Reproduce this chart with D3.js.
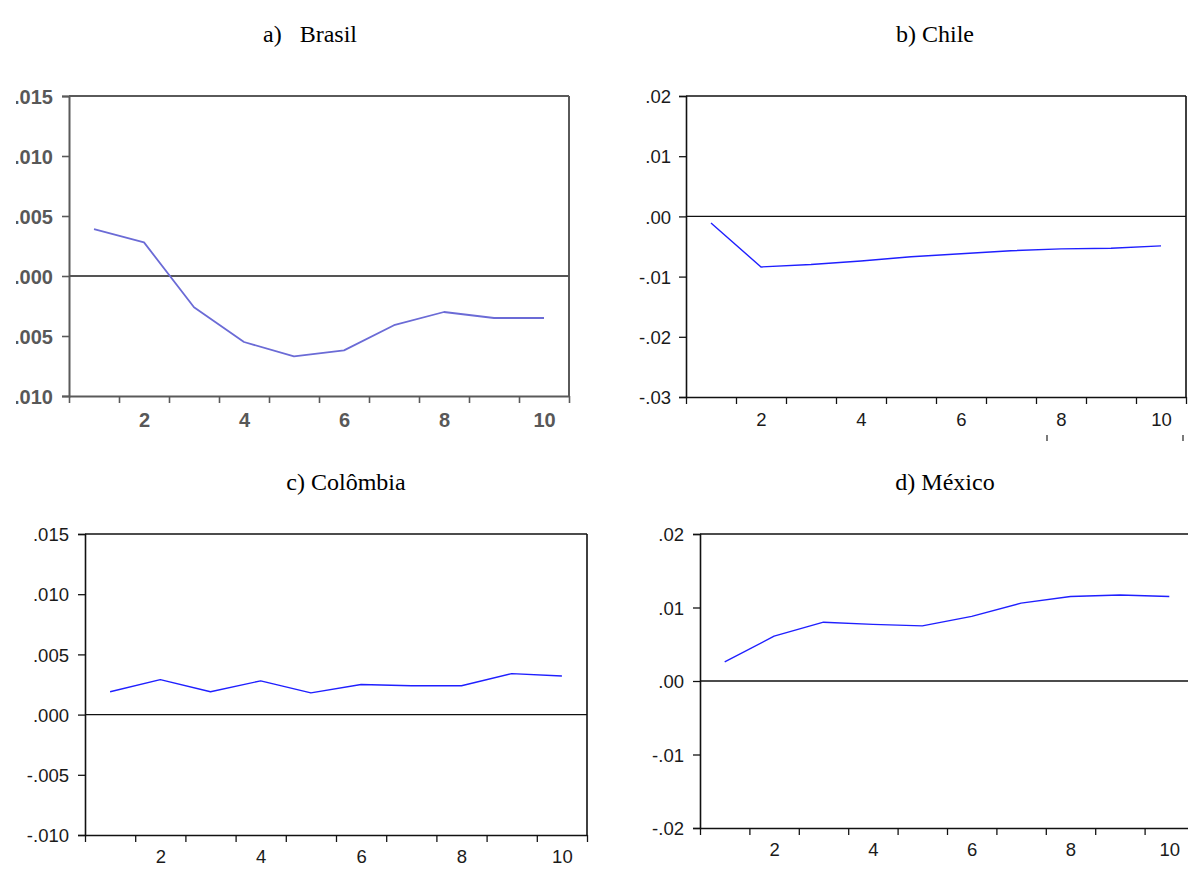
<!DOCTYPE html>
<html>
<head>
<meta charset="utf-8">
<script src="https://cdn.jsdelivr.net/npm/d3@7"></script>
<style>
  html, body { margin: 0; padding: 0; background: #ffffff; }
  svg { display: block; }
</style>
</head>
<body>
<svg id="chart" width="1188" height="870"></svg>
<script>
// ---------- DATA ----------
const periods = [1, 2, 3, 4, 5, 6, 7, 8, 9, 10];
const xTickLabels = [2, 4, 6, 8, 10];

const brasilValues   = [0.0039, 0.0028, -0.0026, -0.0055, -0.0067, -0.0062, -0.0041, -0.0030, -0.0035, -0.0035];
const chileValues    = [-0.0011, -0.0084, -0.0080, -0.0074, -0.0067, -0.0062, -0.0057, -0.0054, -0.0053, -0.0049];
const colombiaValues = [0.0019, 0.0029, 0.0019, 0.0028, 0.0018, 0.0025, 0.0024, 0.0024, 0.0034, 0.0032];
const mexicoValues   = [0.0026, 0.0061, 0.0080, 0.0077, 0.0075, 0.0088, 0.0106, 0.0115, 0.0117, 0.0115];

const brasilYTicks   = [-0.010, -0.005, 0.000, 0.005, 0.010, 0.015];
const brasilYLabels  = ["-.010", "-.005", ".000", ".005", ".010", ".015"];
const chileYTicks    = [-0.03, -0.02, -0.01, 0.00, 0.01, 0.02];
const chileYLabels   = ["-.03", "-.02", "-.01", ".00", ".01", ".02"];
const colombiaYTicks = [-0.010, -0.005, 0.000, 0.005, 0.010, 0.015];
const colombiaYLabels= ["-.010", "-.005", ".000", ".005", ".010", ".015"];
const mexicoYTicks   = [-0.02, -0.01, 0.00, 0.01, 0.02];
const mexicoYLabels  = ["-.02", "-.01", ".00", ".01", ".02"];

const titles = ["a)   Brasil", "b) Chile", "c) Colômbia", "d) México"];

// ---------- LAYOUT ----------
const svg = d3.select("#chart");

const panels = [
  { title: titles[0], tx: 310, ty: 42, values: brasilValues, yTicks: brasilYTicks, yLabels: brasilYLabels,
    left: 69, right: 569, top: 96, bottom: 396, frame: "#5a5a5a", frameW: 2, zeroW: 2.2, zeroC: "#555",
    lineC: "#6b6bd6", lineW: 1.8, textC: "#585858", bold: true, fontSize: 20, clipLeft: 16, rightBorder: true,
    yPad: 9, xPad: 17 },
  { title: titles[1], tx: 935, ty: 42, values: chileValues, yTicks: chileYTicks, yLabels: chileYLabels,
    left: 686, right: 1186, top: 96, bottom: 397, frame: "#111", frameW: 1.6, zeroW: 1.4, zeroC: "#111",
    lineC: "#1f1fff", lineW: 1.4, textC: "#1a1a1a", bold: false, fontSize: 18.5, clipLeft: null, rightBorder: true,
    yPad: 8, xPad: 16 },
  { title: titles[2], tx: 346, ty: 490, values: colombiaValues, yTicks: colombiaYTicks, yLabels: colombiaYLabels,
    left: 85, right: 587, top: 534, bottom: 835, frame: "#111", frameW: 1.6, zeroW: 1.4, zeroC: "#111",
    lineC: "#1f1fff", lineW: 1.4, textC: "#1a1a1a", bold: false, fontSize: 18.5, clipLeft: null, rightBorder: true,
    yPad: 9, xPad: 15 },
  { title: titles[3], tx: 945, ty: 490, values: mexicoValues, yTicks: mexicoYTicks, yLabels: mexicoYLabels,
    left: 700, right: 1194, top: 534, bottom: 828, frame: "#111", frameW: 1.6, zeroW: 1.4, zeroC: "#111",
    lineC: "#1f1fff", lineW: 1.4, textC: "#1a1a1a", bold: false, fontSize: 18.5, clipLeft: null, rightBorder: false,
    yPad: 9, xPad: 15 }
];

panels.forEach((p, i) => {
  // title
  svg.append("text")
    .attr("x", p.tx).attr("y", p.ty)
    .attr("text-anchor", "middle")
    .style("font-family", "'Liberation Serif', 'Times New Roman', serif")
    .style("font-size", "24px")
    .style("white-space", "pre")
    .attr("fill", "#000")
    .text(p.title);

  let g = svg.append("g");
  if (p.clipLeft !== null) {
    svg.append("clipPath").attr("id", "clip" + i)
      .append("rect").attr("x", p.clipLeft).attr("y", 0).attr("width", 1188).attr("height", 870);
    g.attr("clip-path", `url(#clip${i})`);
  }

  const x = d3.scaleLinear().domain([0.5, 10.5]).range([p.left, p.right]);
  const y = d3.scaleLinear().domain([d3.min(p.yTicks), d3.max(p.yTicks)]).range([p.bottom, p.top]);

  const fontStyle = sel => sel
    .style("font-family", "'Liberation Sans', Arial, sans-serif")
    .style("font-size", p.fontSize + "px")
    .style("font-weight", p.bold ? "bold" : "normal")
    .attr("fill", p.textC);

  // Y axis
  const yAxis = d3.axisLeft(y)
    .tickValues(p.yTicks)
    .tickFormat((d, k) => p.yLabels[k])
    .tickSize(7).tickPadding(p.yPad);
  const yg = g.append("g").attr("transform", `translate(${p.left},0)`).call(yAxis);
  yg.select(".domain").attr("stroke", p.frame).attr("stroke-width", p.frameW);
  yg.selectAll(".tick line").attr("stroke", p.frame).attr("stroke-width", p.frameW * 0.8);
  yg.selectAll(".tick text").call(fontStyle).attr("dy", "0.36em");

  // X axis: tick marks at category boundaries, labels at category centres
  const boundaries = d3.range(0, 11).map(k => k + 0.5);
  const xAxisTicks = d3.axisBottom(x).tickValues(boundaries).tickFormat("").tickSize(7).tickSizeOuter(0);
  const xg = g.append("g").attr("transform", `translate(0,${p.bottom})`).call(xAxisTicks);
  xg.select(".domain").attr("stroke", p.frame).attr("stroke-width", p.frameW);
  xg.selectAll(".tick line").attr("stroke", p.frame).attr("stroke-width", p.frameW * 0.8);

  const xLabelAxis = d3.axisBottom(x).tickValues(xTickLabels).tickSize(0).tickPadding(p.xPad);
  const xl = g.append("g").attr("transform", `translate(0,${p.bottom})`).call(xLabelAxis);
  xl.select(".domain").remove();
  xl.selectAll(".tick text").call(fontStyle);

  // top and right border
  g.append("line").attr("x1", p.left).attr("x2", p.right).attr("y1", p.top).attr("y2", p.top)
    .attr("stroke", p.frame).attr("stroke-width", p.frameW);
  if (p.rightBorder) {
    g.append("line").attr("x1", p.right).attr("x2", p.right).attr("y1", p.top).attr("y2", p.bottom)
      .attr("stroke", p.frame).attr("stroke-width", p.frameW);
  }

  // zero line
  g.append("line").attr("x1", p.left).attr("x2", p.right).attr("y1", y(0)).attr("y2", y(0))
    .attr("stroke", p.zeroC).attr("stroke-width", p.zeroW);

  // response line
  const line = d3.line().x((d, k) => x(periods[k])).y(d => y(d));
  g.append("path").datum(p.values)
    .attr("d", line)
    .attr("fill", "none")
    .attr("stroke", p.lineC)
    .attr("stroke-width", p.lineW)
    .attr("stroke-linejoin", "round");
});

// small stray marks below the Chile axis (as in the source image)
const chileX = d3.scaleLinear().domain([0.5, 10.5]).range([686, 1186]);
[7.72, 10.44].forEach(v => {
  svg.append("line").attr("x1", chileX(v)).attr("x2", chileX(v)).attr("y1", 435).attr("y2", 441)
    .attr("stroke", "#222").attr("stroke-width", 1.2);
});
</script>
</body>
</html>
